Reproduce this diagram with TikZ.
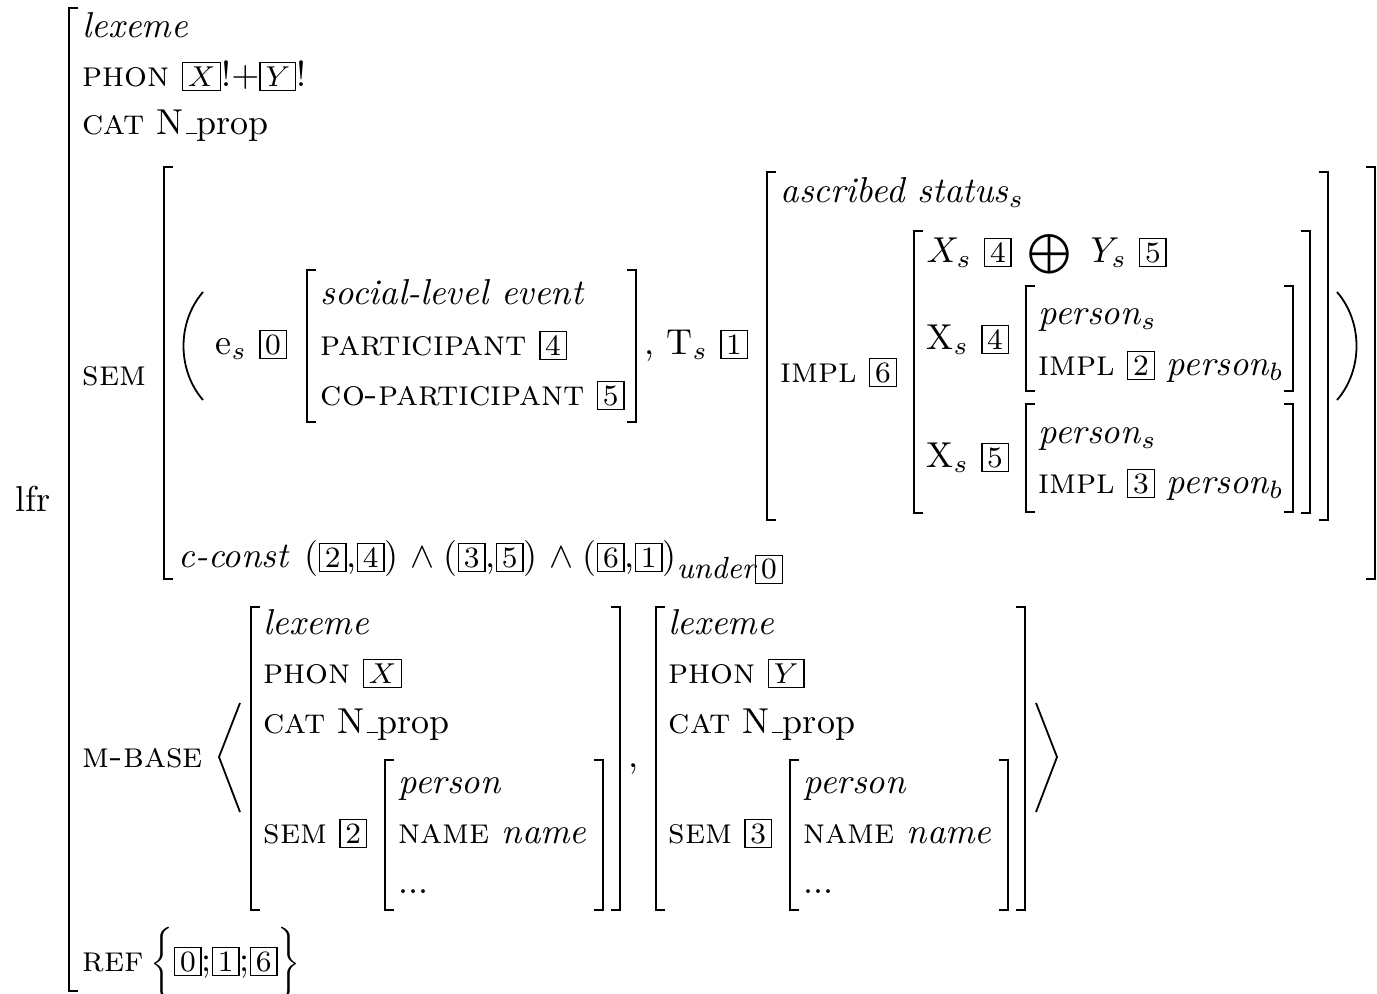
\documentclass[tikz,border=0pt]{standalone}
\usepackage{amsmath}
\usepackage{amssymb}
\usepackage{graphicx}
\newcommand{\tg}[1]{{\setlength{\fboxsep}{0pt}\setlength{\fboxrule}{0.4pt}\fbox{\rule[-1.05pt]{0pt}{7.4pt}\hspace{1.3pt}{\fontsize{8.2}{9}\selectfont\upshape #1}\hspace{1.3pt}}}}
\newcommand{\Nprop}{N\kern0.6pt\rule{3pt}{0.4pt}prop}
\begin{document}
\begin{tikzpicture}[x=0.2778pt,y=-0.2778pt,
  every node/.style={inner sep=0pt, anchor=base west, font=\normalsize},
  brk/.style={line width=0.55pt},
  delim/.style={line width=0.5pt}]
\useasboundingbox (0,0) rectangle (1377,993);
% brackets
\draw[brk] (78,8) -- (69,8) -- (69,991) -- (78,991);
\draw[brk] (173,167) -- (164,167) -- (164,579) -- (173,579);
\draw[brk] (1366,167) -- (1375,167) -- (1375,579) -- (1366,579);
\draw[brk] (316,270) -- (307,270) -- (307,422) -- (316,422);
\draw[brk] (627,270) -- (636,270) -- (636,422) -- (627,422);
\draw[brk] (776,172) -- (767,172) -- (767,520) -- (776,520);
\draw[brk] (1319,172) -- (1328,172) -- (1328,520) -- (1319,520);
\draw[brk] (923,231) -- (914,231) -- (914,513) -- (923,513);
\draw[brk] (1301,231) -- (1310,231) -- (1310,513) -- (1301,513);
\draw[brk] (1035,286) -- (1026,286) -- (1026,391) -- (1035,391);
\draw[brk] (1284,286) -- (1293,286) -- (1293,391) -- (1284,391);
\draw[brk] (1035,404) -- (1026,404) -- (1026,512) -- (1035,512);
\draw[brk] (1284,404) -- (1293,404) -- (1293,512) -- (1284,512);
\draw[brk] (260,607) -- (251,607) -- (251,910) -- (260,910);
\draw[brk] (611,607) -- (620,607) -- (620,910) -- (611,910);
\draw[brk] (394,760) -- (385,760) -- (385,910) -- (394,910);
\draw[brk] (594,760) -- (603,760) -- (603,910) -- (594,910);
\draw[brk] (665,607) -- (656,607) -- (656,910) -- (665,910);
\draw[brk] (1016,607) -- (1025,607) -- (1025,910) -- (1016,910);
\draw[brk] (799,760) -- (790,760) -- (790,910) -- (799,910);
\draw[brk] (999,760) -- (1008,760) -- (1008,910) -- (999,910);
% parentheses and angles
\draw[delim] (203,292) .. controls (177,322) and (177,370) .. (203,400);
\draw[delim] (1337,292) .. controls (1363,322) and (1363,370) .. (1337,400);
\draw[delim] (240,703) -- (219,757) -- (240,812);
\draw[delim] (1036,703) -- (1057,757) -- (1036,812);
% texts
\node (lfr) at (15,511) {lfr};
\node (lex0) at (82,37) {\textit{lexeme}};
\node (phon0) at (82,86) {\textsc{phon} \tg{$X$}!$+$\tg{$Y$}!};
\node (cat0) at (82,134) {\textsc{cat} \Nprop};
\node (sem0) at (82,385) {\textsc{sem}};
\node (es) at (215,354) {e$_s$ \tg{0}};
\node (soc) at (320,304) {\textit{social-level event}};
\node (part) at (320,355) {\textsc{participant} \tg{4}};
\node (copart) at (320,405) {\textsc{co-participant} \tg{5}};
\node (ts) at (644,354) {, T$_s$ \tg{1}};
\node (asc) at (780,202) {\textit{ascribed status}$_s$};
\node (impl6) at (780,382) {\textsc{impl} \tg{6}};
\node (xy) at (926,262) {$X_s$ \tg{4}\hspace{1pt} \raisebox{-0.6pt}{\scalebox{1.1}{$\bigoplus$}}\hspace{2pt} $Y_s$ \tg{5}};
\node (x4) at (926,349) {X$_s$ \tg{4}};
\node (ps1) at (1038,324) {\textit{person}$_s$};
\node (impl2) at (1038,375) {\textsc{impl} \tg{2} \textit{person}$_b$};
\node (x5) at (926,467) {X$_s$ \tg{5}};
\node (ps2) at (1038,443) {\textit{person}$_s$};
\node (impl3) at (1038,493) {\textsc{impl} \tg{3} \textit{person}$_b$};
\node (cc) at (178,567) {\textit{c-const}\hspace{4.2pt}(\tg{2},\tg{4})\hspace{3.2pt}$\wedge$\hspace{2.7pt}(\tg{3},\tg{5})\hspace{3.2pt}$\wedge$\hspace{2.7pt}(\tg{6},\tg{1})\raisebox{-3.3pt}{\fontsize{8.5}{9}\selectfont\itshape under\tg{0}}};
\node (mbase) at (82,767) {\textsc{m-base}};
\node (lex1) at (263,634) {\textit{lexeme}};
\node (phon1) at (263,683) {\textsc{phon} \tg{$X$}};
\node (cat1) at (263,733) {\textsc{cat} \Nprop};
\node (sem1) at (263,843) {\textsc{sem} \tg{2}};
\node (per1) at (398,793) {\textit{person}};
\node (name1) at (398,843) {\textsc{name} \textit{name}};
\node (dots1) at (398,893) {...};
\node (comma) at (628,767) {,};
\node (lex2) at (668,634) {\textit{lexeme}};
\node (phon2) at (668,683) {\textsc{phon} \tg{$Y$}};
\node (cat2) at (668,733) {\textsc{cat} \Nprop};
\node (sem2) at (668,843) {\textsc{sem} \tg{3}};
\node (per2) at (803,793) {\textit{person}};
\node (name2) at (803,843) {\textsc{name} \textit{name}};
\node (dots2) at (803,893) {...};
\node (ref) at (82,971) {\textsc{ref}\hspace{2pt}\raisebox{-0.3pt}{\scalebox{0.85}{$\bigg\{$}}\tg{0};\tg{1};\tg{6}\raisebox{-0.3pt}{\scalebox{0.85}{$\bigg\}$}}};
\end{tikzpicture}
\end{document}
